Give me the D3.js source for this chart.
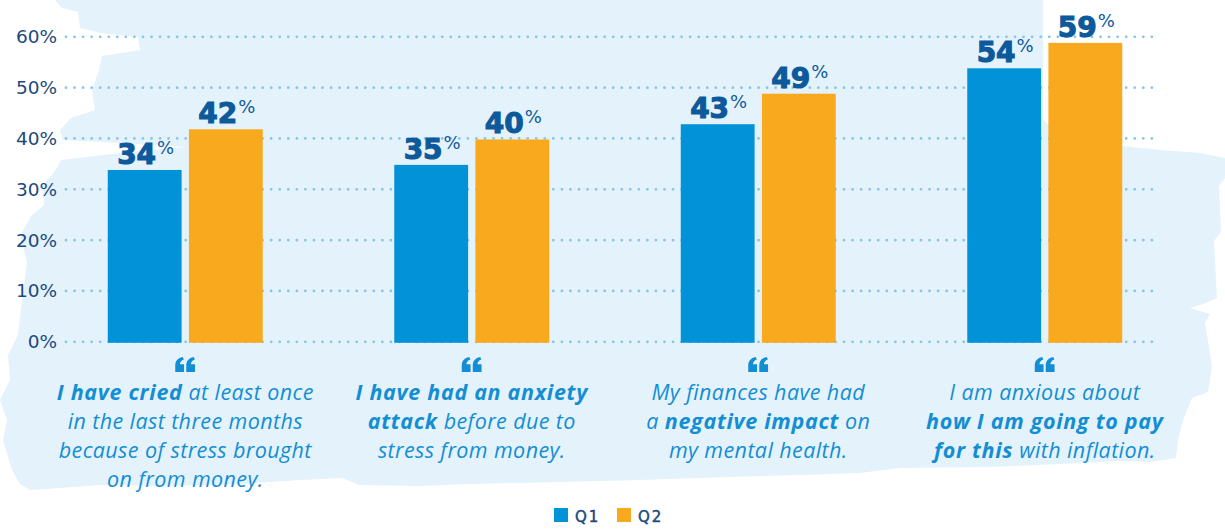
<!DOCTYPE html>
<html>
<head>
<meta charset="utf-8">
<script src="https://cdn.jsdelivr.net/npm/d3@7"></script>
<style>
  html, body { margin: 0; padding: 0; background: #ffffff; }
  svg { display: block; }
</style>
</head>
<body>
<svg id="chart" width="1225" height="529"></svg>
<script>
// ---- data ----
const categories = ["cried", "anxiety", "impact", "inflation"];
const seriesNames = ["Q1", "Q2"];
const q1Values = [34, 35, 43, 54];
const q2Values = [42, 40, 49, 59];
const yTicks = [0, 10, 20, 30, 40, 50, 60];
// survey statements under each pair of bars; **...** marks the emphasised words
const statementLines = [
  ["**I have cried** at least once", "in the last three months", "because of stress brought", "on from money."],
  ["**I have had an anxiety**", "**attack** before due to", "stress from money."],
  ["My finances have had", "a **negative impact** on", "my mental health."],
  ["I am anxious about", "**how I am going to pay**", "**for this** with inflation."]
];

// ---- styling ----
const seriesColors = { Q1: "#0292d8", Q2: "#f8a91d" };
const navy = "#1d4a7c";
const valueBlue = "#0c5a9c";
const textBlue = "#138ed4";
const wash = "#e4f3fb";

// painted brush-stroke backdrop
const brushOutline = [
  [55,0],[1043,0],[1043,118],[1047,124],[1062,128],[1090,133],[1123,146],[1160,150],[1200,153],[1225,158],
  [1225,178],[1219,186],[1221,232],[1214,241],[1217,298],[1206,303],[1190,308],[1210,314],[1205,323],
  [1212,366],[1208,392],[1192,398],[1183,420],[1178,440],[1176,458],
  [1150,462],[1120,461],[1060,464],[990,467],[900,468],[860,473],[800,475],[730,477],[640,480],
  [560,482],[470,484],[420,486],[360,485],[342,478],[300,480],[240,484],[160,486],[100,485],
  [60,488],[30,490],[20,484],[12,470],[3,440],[7,420],[0,400],[10,380],[8,355],[18,335],[22,300],
  [27,262],[20,236],[31,216],[44,205],[42,186],[55,171],[61,160],[120,153],[185,147],[120,143],
  [63,140],[60,130],[71,118],[95,110],[92,90],[99,70],[102,56],[140,50],[138,37],[100,33],[80,28],
  [78,12],[62,8]
];

// one half of the opening-quote ornament, 9 x 15 units
const quoteHalf = "M0,15 L0,8.5 C0,4 2.5,1 7.5,0 L8.6,2.6 C6,3.6 4.8,5.2 4.7,7.2 L8.8,7.2 L8.8,15 Z";

const svg = d3.select("#chart");

svg.append("path")
  .attr("d", d3.line()(brushOutline) + "Z")
  .attr("fill", wash);

// ---- scales ----
const x = d3.scaleBand().domain(categories).range([42, 1188]).padding(0);
const xSub = d3.scaleBand().domain(seriesNames).range([-77.5, 77.5]).paddingInner(0.09);
const y = d3.scaleLinear().domain([0, 60]).range([342.8, 37.8]);

// ---- dotted gridlines ----
svg.append("g")
  .selectAll("line")
  .data(yTicks)
  .join("line")
  .attr("x1", 66)
  .attr("x2", 1154)
  .attr("y1", d => y(d) - 1)
  .attr("y2", d => y(d) - 1)
  .attr("stroke", "#86c5e8")
  .attr("stroke-width", 2.8)
  .attr("stroke-linecap", "round")
  .attr("stroke-dasharray", "0 8.55");

// ---- y axis ----
const yAxis = svg.append("g")
  .attr("transform", "translate(57,-1)")
  .call(d3.axisLeft(y).tickValues(yTicks).tickFormat(d => d + "%").tickSize(0).tickPadding(0));
yAxis.select(".domain").remove();
yAxis.selectAll("text")
  .attr("fill", navy)
  .style("font-family", "'DejaVu Sans', sans-serif")
  .style("font-size", "18.5px");

// ---- bars ----
const rows = categories.map((c, i) => ({
  cat: c,
  values: [
    { key: "Q1", value: q1Values[i] },
    { key: "Q2", value: q2Values[i] }
  ]
}));

const groups = svg.append("g")
  .selectAll("g")
  .data(rows)
  .join("g")
  .attr("transform", d => `translate(${x(d.cat) + x.bandwidth() / 2},0)`);

groups.selectAll("rect")
  .data(d => d.values)
  .join("rect")
  .attr("x", d => xSub(d.key))
  .attr("width", xSub.bandwidth())
  .attr("y", d => y(d.value))
  .attr("height", d => y(0) - y(d.value))
  .attr("fill", d => seriesColors[d.key]);

// value labels
const vlab = groups.selectAll("text.val")
  .data(d => d.values)
  .join("text")
  .attr("class", "val")
  .attr("x", d => xSub(d.key) + xSub.bandwidth() / 2 + 1)
  .attr("y", d => y(d.value) - 6)
  .attr("text-anchor", "middle")
  .attr("fill", valueBlue)
  .style("font-family", "'DejaVu Sans', sans-serif");
vlab.append("tspan")
  .style("font-size", "28px")
  .style("font-weight", "bold")
  .attr("stroke", valueBlue)
  .attr("stroke-width", 1.1)
  .text(d => d.value);
vlab.append("tspan")
  .attr("dx", 1)
  .attr("dy", -10)
  .style("font-size", "18px")
  .text("%");

// ---- statements ----
const quote = groups.append("g")
  .attr("transform", "translate(-10,357)")
  .attr("fill", textBlue);
quote.append("path").attr("d", quoteHalf);
quote.append("path").attr("d", quoteHalf).attr("transform", "translate(11,0)");

groups.each(function (d, i) {
  const g = d3.select(this);
  statementLines[i].forEach((line, j) => {
    const t = g.append("text")
      .attr("x", 0)
      .attr("y", 400 + j * 29)
      .attr("text-anchor", "middle")
      .attr("fill", textBlue)
      .style("font-family", "'Open Sans', sans-serif")
      .style("font-style", "italic")
      .style("font-size", "21.5px")
      .style("letter-spacing", "0.4px");
    line.split("**").forEach((part, k) => {
      if (!part) return;
      const bold = k % 2 === 1;
      t.append("tspan")
        .style("font-weight", bold ? 700 : 400)
        .style("letter-spacing", bold ? "0.7px" : "0.4px")
        .text(part);
    });
  });
});

// ---- legend ----
const legend = svg.append("g").attr("transform", "translate(554,508)");
const items = legend.selectAll("g")
  .data(seriesNames)
  .join("g")
  .attr("transform", (d, i) => `translate(${i * 63},0)`);
items.append("rect")
  .attr("width", 14)
  .attr("height", 14)
  .attr("fill", d => seriesColors[d]);
items.append("text")
  .attr("x", 21)
  .attr("y", 14)
  .attr("fill", navy)
  .attr("stroke", navy)
  .attr("stroke-width", 0.5)
  .style("font-family", "'DejaVu Sans', sans-serif")
  .style("font-size", "15px")
  .style("letter-spacing", "2px")
  .text(d => d);
</script>
</body>
</html>
